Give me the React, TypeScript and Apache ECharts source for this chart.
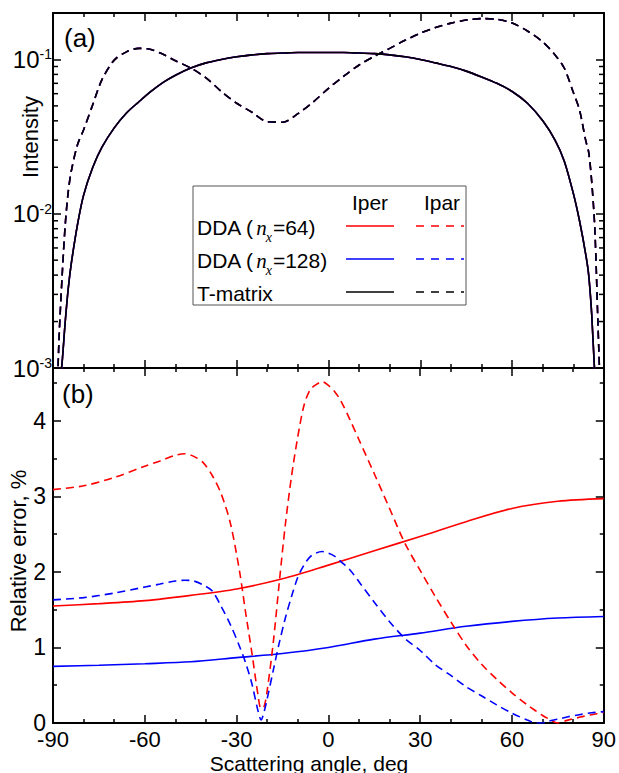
import React, { useEffect, useRef } from 'react';
import * as echarts from 'echarts';

const FONT = "'Liberation Sans', Arial, Helvetica, sans-serif";
const SERIF = "'Liberation Serif', 'Times New Roman', serif";

// ---------- Panel (a): intensity (log scale) ----------
const angUpper = [-90, -89, -88, -87, -86, -85, -84, -82, -80, -77, -74, -70, -66, -62, -58, -54, -50, -45, -40, -35, -30, -25, -20, -15, -10, -5, 0, 5, 10, 15, 20, 25, 30, 35, 40, 45, 50, 55, 60, 65, 70, 74, 77, 80, 82, 84, 85, 86, 87, 88, 89, 90];
const tmatPer = [0.0001, 0.0003, 0.0007, 0.0011, 0.002, 0.0033, 0.0048, 0.0085, 0.0132, 0.02, 0.027, 0.036, 0.045, 0.053, 0.062, 0.071, 0.079, 0.088, 0.095, 0.1, 0.104, 0.107, 0.109, 0.11, 0.111, 0.111, 0.111, 0.111, 0.11, 0.109, 0.107, 0.104, 0.1, 0.095, 0.09, 0.084, 0.077, 0.07, 0.062, 0.052, 0.04, 0.03, 0.022, 0.0135, 0.009, 0.0055, 0.004, 0.0022, 0.0009, 0.0005, 0.0002, 0.0001];
const tmatPar = [0.0001, 0.0004, 0.0016, 0.004, 0.0085, 0.014, 0.019, 0.028, 0.035, 0.051, 0.074, 0.099, 0.112, 0.118, 0.116, 0.108, 0.098, 0.088, 0.076, 0.062, 0.052, 0.0455, 0.0395, 0.0392, 0.0445, 0.053, 0.065, 0.078, 0.092, 0.105, 0.118, 0.133, 0.148, 0.161, 0.172, 0.18, 0.184, 0.182, 0.172, 0.153, 0.13, 0.107, 0.088, 0.061, 0.047, 0.03, 0.025, 0.016, 0.008, 0.002, 0.0005, 0.0001];
// DDA results coincide with the T-matrix curves at this scale
const dda64Per = tmatPer;
const dda64Par = tmatPar;
const dda128Per = tmatPer;
const dda128Par = tmatPar;
const logMajorTicks = [0.001, 0.01, 0.1];
const logMinorTicks = [0.002, 0.003, 0.004, 0.005, 0.006, 0.007, 0.008, 0.009, 0.02, 0.03, 0.04, 0.05, 0.06, 0.07, 0.08, 0.09];

// ---------- Panel (b): relative error, % ----------
const angSolid = [-90, -75, -60, -45, -30, -15, 0, 15, 30, 45, 60, 75, 90];
const err64Per = [1.55, 1.58, 1.62, 1.69, 1.775, 1.91, 2.09, 2.28, 2.47, 2.665, 2.84, 2.935, 2.97];
const err128Per = [0.75, 0.765, 0.785, 0.81, 0.865, 0.92, 1.0, 1.11, 1.19, 1.28, 1.345, 1.39, 1.41];
const angDash = [-90, -80, -70, -60, -55, -50, -47, -44, -41, -38, -35, -32, -29, -27, -25, -23, -22, -21, -20, -18, -16, -14, -12, -10, -8, -6, -4, -2, 0, 2, 4, 7, 10, 15, 20, 25, 30, 35, 40, 45, 50, 55, 60, 65, 68, 70, 72, 75, 78, 82, 86, 90];
const err64Par = [3.09, 3.14, 3.25, 3.4, 3.47, 3.545, 3.565, 3.53, 3.45, 3.28, 3.03, 2.64, 2.0, 1.45, 0.93, 0.37, 0.19, 0.22, 0.43, 1.07, 1.88, 2.65, 3.28, 3.79, 4.2, 4.41, 4.48, 4.52, 4.47, 4.39, 4.27, 4.02, 3.75, 3.3, 2.84, 2.38, 2.02, 1.67, 1.34, 1.03, 0.78, 0.58, 0.4, 0.24, 0.155, 0.1, 0.055, 0.0, 0.035, 0.075, 0.11, 0.14];
const err128Par = [1.63, 1.66, 1.72, 1.8, 1.84, 1.88, 1.89, 1.88, 1.83, 1.75, 1.54, 1.3, 1.01, 0.79, 0.52, 0.16, 0.04, 0.15, 0.32, 0.7, 1.07, 1.4, 1.68, 1.93, 2.09, 2.2, 2.25, 2.27, 2.25, 2.21, 2.14, 2.03, 1.87, 1.6, 1.34, 1.12, 0.96, 0.77, 0.63, 0.48, 0.36, 0.24, 0.13, 0.04, 0.0, 0.0, 0.025, 0.05, 0.08, 0.11, 0.135, 0.15];

const RED = '#ff0000';
const BLUE = '#0000ff';
const BLACK = '#000000';

const UP_MIN = Math.log10(logMajorTicks[0]);
const UP_MAX = Math.log10(0.2);

function xAx(gridIndex: number, position: string, showLabel: boolean) {
  return {
    type: 'value', gridIndex, position, min: -90, max: 90, interval: 30,
    axisLine: { show: true, onZero: false, lineStyle: { color: '#000', width: 2 } },
    axisTick: { show: true, inside: true, length: 8, lineStyle: { color: '#000', width: 1.5 } },
    minorTick: { show: true, splitNumber: 3, length: 4, lineStyle: { color: '#000', width: 1.5 } },
    splitLine: { show: false }, minorSplitLine: { show: false },
    axisLabel: { show: showLabel, color: '#000', fontSize: 22, fontFamily: FONT, margin: 7, lineHeight: 18 },
  };
}

function logLine(ang: number[], vals: number[], color: string, dashed: boolean, z: number) {
  return {
    type: 'line', xAxisIndex: 0, yAxisIndex: 0, showSymbol: false, symbol: 'none', smooth: 0.3, z,
    clip: true,
    lineStyle: { color, width: 1.6, type: dashed ? [8, 5] : 'solid' },
    data: ang.map((a, i) => [a, Math.log10(vals[i])]),
  };
}

function errLine(ang: number[], vals: number[], color: string, dashed: boolean) {
  return {
    type: 'line', xAxisIndex: 2, yAxisIndex: 2, showSymbol: false, symbol: 'none', smooth: 0.3,
    clip: true,
    lineStyle: { color, width: 1.6, type: dashed ? [8, 5] : 'solid' },
    data: ang.map((a, i) => [a, vals[i]]),
  };
}

export default function App() {
  const ref = useRef<HTMLDivElement>(null);
  useEffect(() => {
    document.body.style.margin = '0';
    if (!ref.current) return;
    const chart = echarts.init(ref.current, undefined, { renderer: 'svg' });

    const cv = document.createElement('canvas').getContext('2d') as CanvasRenderingContext2D;
    const tw = (t: string, font: string) => { cv.font = font; return cv.measureText(t).width; };
    const F_MAIN = `21px ${FONT}`;
    const F_N = `italic 21px ${SERIF}`;
    const F_X = `italic 14px ${SERIF}`;

    const LX = 197;
    const rows = [
      { y: 227, tail: '=64)', color: RED, sub: true },
      { y: 260, tail: '=128)', color: BLUE, sub: true },
      { y: 293, tail: 'T-matrix', color: BLACK, sub: false },
    ];
    const txt = (x: number, y: number, text: string, fontSize: number, family: string, italic = false, align = 'left') => ({
      type: 'text', x, y, z: 101,
      style: { text, fontSize, fontFamily: family, fontStyle: italic ? 'italic' : 'normal', fill: '#000', align, verticalAlign: 'middle' },
    });
    const legendEls: any[] = [
      { type: 'rect', shape: { x: 193, y: 186, width: 273, height: 119 }, style: { fill: '#fff', stroke: '#555', lineWidth: 1 }, z: 100 },
      txt(370, 202, 'Iper', 21, FONT, false, 'center'),
      txt(442, 202, 'Ipar', 21, FONT, false, 'center'),
    ];
    rows.forEach((r) => {
      if (r.sub) {
        const head = 'DDA (';
        const w1 = tw(head, F_MAIN);
        const wn = tw('n', F_N);
        const wx = tw('x', F_X);
        legendEls.push(txt(LX, r.y, head, 21, FONT));
        legendEls.push(txt(LX + w1 + 2, r.y + 1, 'n', 21, SERIF, true));
        legendEls.push(txt(LX + w1 + wn + 1, r.y + 10, 'x', 14, SERIF, true));
        legendEls.push(txt(LX + w1 + wn + wx + 2, r.y, r.tail, 21, FONT));
      } else {
        legendEls.push(txt(LX, r.y, r.tail, 21, FONT));
      }
      legendEls.push({ type: 'line', shape: { x1: 346, y1: r.y - 1, x2: 394, y2: r.y - 1 }, style: { stroke: r.color, lineWidth: 1.6 }, z: 101 });
      legendEls.push({ type: 'line', shape: { x1: 416, y1: r.y - 1, x2: 464, y2: r.y - 1 }, style: { stroke: r.color, lineWidth: 1.6, lineDash: [8, 7] }, z: 101 });
    });

    const option: any = {
      animation: false,
      backgroundColor: '#fff',
      grid: [
        { left: 53, right: 15, top: 13, height: 355 },
        { left: 53, right: 15, top: 368, height: 355 },
      ],
      xAxis: [xAx(0, 'bottom', false), xAx(0, 'top', false), xAx(1, 'bottom', true), xAx(1, 'top', false)],
      yAxis: [
        {
          type: 'value', gridIndex: 0, position: 'left', min: UP_MIN, max: UP_MAX, interval: 1,
          axisLine: { show: true, onZero: false, lineStyle: { color: '#000', width: 2 } },
          axisTick: { show: true, inside: true, length: 8, lineStyle: { color: '#000', width: 1.5 } },
          splitLine: { show: false },
          axisLabel: {
            show: true, margin: 1, showMaxLabel: false,
            formatter: (v: number) => (Math.abs(v - Math.round(v)) < 1e-6 ? `{b|10}{s|${Math.round(v)}}` : ''),
            rich: {
              b: { fontSize: 24, fontFamily: FONT, color: '#000', lineHeight: 24 },
              s: { fontSize: 14, fontFamily: FONT, color: '#000', verticalAlign: 'top', lineHeight: 16 },
            },
          },
        },
        {
          type: 'value', gridIndex: 0, position: 'right', min: UP_MIN, max: UP_MAX, interval: 1,
          axisLine: { show: true, onZero: false, lineStyle: { color: '#000', width: 2 } },
          axisTick: { show: true, inside: true, length: 8, lineStyle: { color: '#000', width: 1.5 } },
          splitLine: { show: false }, axisLabel: { show: false },
        },
        {
          type: 'value', gridIndex: 1, position: 'left', min: 0, max: 4.7, interval: 1,
          axisLine: { show: true, onZero: false, lineStyle: { color: '#000', width: 2 } },
          axisTick: { show: true, inside: true, length: 8, lineStyle: { color: '#000', width: 1.5 } },
          minorTick: { show: true, splitNumber: 2, length: 4, lineStyle: { color: '#000', width: 1.5 } },
          splitLine: { show: false }, minorSplitLine: { show: false },
          axisLabel: {
            show: true, showMaxLabel: false, color: '#000', fontSize: 23, fontFamily: FONT, margin: 7, lineHeight: 16,
            formatter: (v: number) => (Math.abs(v - Math.round(v)) < 1e-6 ? String(Math.round(v)) : ''),
          },
        },
        {
          type: 'value', gridIndex: 1, position: 'right', min: 0, max: 4.7, interval: 1,
          axisLine: { show: true, onZero: false, lineStyle: { color: '#000', width: 2 } },
          axisTick: { show: true, inside: true, length: 8, lineStyle: { color: '#000', width: 1.5 } },
          minorTick: { show: true, splitNumber: 2, length: 4, lineStyle: { color: '#000', width: 1.5 } },
          splitLine: { show: false }, minorSplitLine: { show: false }, axisLabel: { show: false },
        },
      ],
      series: [
        logLine(angUpper, dda64Per, RED, false, 2),
        logLine(angUpper, dda64Par, RED, true, 2),
        logLine(angUpper, dda128Per, BLUE, false, 3),
        logLine(angUpper, dda128Par, BLUE, true, 3),
        logLine(angUpper, tmatPer, BLACK, false, 4),
        logLine(angUpper, tmatPar, BLACK, true, 4),
        {
          type: 'custom', xAxisIndex: 0, yAxisIndex: 0, silent: true, clip: false, z: 5,
          data: logMinorTicks.map((v) => [-90, Math.log10(v)]),
          renderItem: (params: any, api: any) => {
            const v = api.value(1);
            const pL = api.coord([-90, v]);
            const pR = api.coord([90, v]);
            const st = { stroke: '#000', lineWidth: 1.5 };
            return {
              type: 'group',
              children: [
                { type: 'line', shape: { x1: pL[0], y1: pL[1], x2: pL[0] + 5, y2: pL[1] }, style: st },
                { type: 'line', shape: { x1: pR[0], y1: pR[1], x2: pR[0] - 5, y2: pR[1] }, style: st },
              ],
            };
          },
        },
        errLine(angSolid, err64Per, RED, false),
        errLine(angSolid, err128Per, BLUE, false),
        errLine(angDash, err64Par, RED, true),
        errLine(angDash, err128Par, BLUE, true),
      ],
      graphic: [
        { type: 'text', x: 64, y: 38, style: { text: '(a)', fontSize: 26, fontFamily: FONT, fill: '#000', align: 'left', verticalAlign: 'middle' }, z: 100 },
        { type: 'text', x: 62, y: 394, style: { text: '(b)', fontSize: 26, fontFamily: FONT, fill: '#000', align: 'left', verticalAlign: 'middle' }, z: 100 },
        { type: 'text', x: 30, y: 137, rotation: Math.PI / 2, style: { text: 'Intensity', fontSize: 22, fontFamily: FONT, fill: '#000', align: 'center', verticalAlign: 'middle' }, z: 100 },
        { type: 'text', x: 18, y: 551, rotation: Math.PI / 2, style: { text: 'Relative error, %', fontSize: 22, fontFamily: FONT, fill: '#000', align: 'center', verticalAlign: 'middle' }, z: 100 },
        { type: 'text', x: 309, y: 763, style: { text: 'Scattering angle, deg', fontSize: 21, fontFamily: FONT, fill: '#000', align: 'center', verticalAlign: 'middle' }, z: 100 },
        ...legendEls,
      ],
    };
    chart.setOption(option);
    return () => chart.dispose();
  }, []);
  return <div ref={ref} style={{ width: 619, height: 773 }} />;
}
